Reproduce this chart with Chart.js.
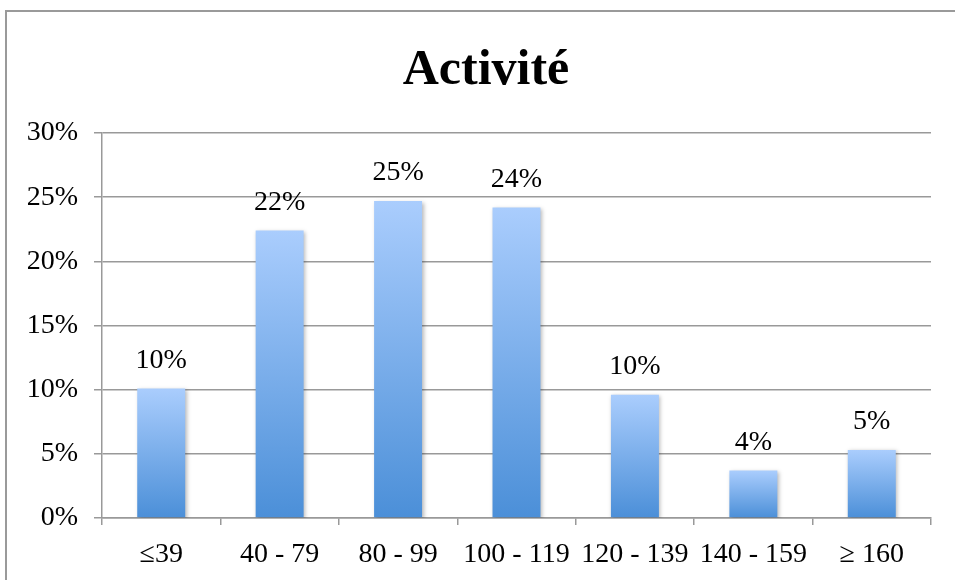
<!DOCTYPE html>
<html>
<head>
<meta charset="utf-8">
<script src="https://cdn.jsdelivr.net/npm/chart.js@4/dist/chart.umd.min.js"></script>
<style>
  html, body { margin: 0; padding: 0; background: #fff; }
  #wrap { position: relative; width: 955px; height: 580px; overflow: hidden; }
  #frame {
    position: absolute; left: 5px; top: 10px; width: 1000px; height: 700px;
    border-left: 2px solid #9a9a9a; border-top: 2px solid #9a9a9a;
    pointer-events: none;
  }
</style>
</head>
<body>
<div id="wrap">
  <canvas id="chart" width="955" height="580"></canvas>
  <div id="frame"></div>
</div>
<script>
// bar chart "Activité": share of each range
const categories = ["≤39", "40 - 79", "80 - 99", "100 - 119", "120 - 139", "140 - 159", "≥ 160"];
const shares = [10.1, 22.4, 24.7, 24.2, 9.6, 3.7, 5.3];
const yTicks = [0, 5, 10, 15, 20, 25, 30];

const FONT = "'Liberation Serif', 'Times New Roman', serif";

function barGradient(ctx) {
  const chart = ctx.chart;
  if (!chart.chartArea || ctx.type !== "data") return "#7aaee8";
  const y = chart.scales.y;
  const top = y.getPixelForValue(ctx.raw);
  const bottom = y.getPixelForValue(0);
  const g = chart.ctx.createLinearGradient(0, top, 0, bottom);
  g.addColorStop(0, "#aacdfd");
  g.addColorStop(1, "#4b8fd8");
  return g;
}

// the left padding only serves to centre the title on the frame;
// let the y labels use that space again so they aren't clipped
const yAxisToEdge = {
  id: "yAxisToEdge",
  afterLayout(chart) {
    chart.scales.y.left = 0;
  },
};

// soft drop shadow under the bars
const barShadow = {
  id: "barShadow",
  beforeDatasetsDraw(chart) {
    const c = chart.ctx;
    c.save();
    c.shadowColor = "rgba(0,0,0,0.28)";
    c.shadowBlur = 4;
    c.shadowOffsetX = 1.5;
    c.shadowOffsetY = 1.5;
  },
  afterDatasetsDraw(chart) {
    chart.ctx.restore();
  },
};

// value labels above each bar
const valueLabels = {
  id: "valueLabels",
  afterDatasetsDraw(chart) {
    const c = chart.ctx;
    const meta = chart.getDatasetMeta(0);
    c.save();
    c.font = "28px " + FONT;
    c.fillStyle = "#000";
    c.textAlign = "center";
    c.textBaseline = "middle";
    meta.data.forEach((bar, i) => {
      c.fillText(Math.round(shares[i]) + "%", bar.x, bar.y - 28);
    });
    c.restore();
  },
};

new Chart(document.getElementById("chart"), {
  type: "bar",
  data: {
    labels: categories,
    datasets: [
      {
        data: shares,
        backgroundColor: barGradient,
        borderWidth: 0,
        barPercentage: 0.405,
        categoryPercentage: 1,
      },
    ],
  },
  plugins: [yAxisToEdge, barShadow, valueLabels],
  options: {
    responsive: false,
    animation: false,
    devicePixelRatio: 1,
    layout: { padding: { left: 41, right: 24, top: 0, bottom: 0 } },
    plugins: {
      legend: { display: false },
      tooltip: { enabled: false },
      title: {
        display: true,
        text: "Activité",
        color: "#000",
        font: { family: FONT, size: 50, weight: "bold", lineHeight: 1.2 },
        padding: { top: 41, bottom: 32 },
      },
    },
    scales: {
      x: {
        afterFit: (s) => { s.height = 62; },
        grid: {
          drawOnChartArea: false,
          drawTicks: true,
          tickLength: 7,
          color: "#999",
          lineWidth: 1.5,
          offset: true,
        },
        border: { display: true, color: "#999", width: 1.5 },
        ticks: {
          color: "#000",
          padding: 13,
          maxRotation: 0,
          autoSkip: false,
          font: { family: FONT, size: 28 },
        },
      },
      y: {
        min: 0,
        max: 30,
        afterFit: (s) => { s.width = 61; },
        afterBuildTicks: (s) => { s.ticks = yTicks.map((v) => ({ value: v })); },
        grid: {
          color: "#999",
          lineWidth: 1.5,
          drawTicks: true,
          tickLength: 8,
        },
        border: { display: true, color: "#999", width: 1.5 },
        ticks: {
          color: "#000",
          padding: 16,
          font: { family: FONT, size: 28 },
          callback: (v) => v + "%",
        },
      },
    },
  },
});
</script>
</body>
</html>
